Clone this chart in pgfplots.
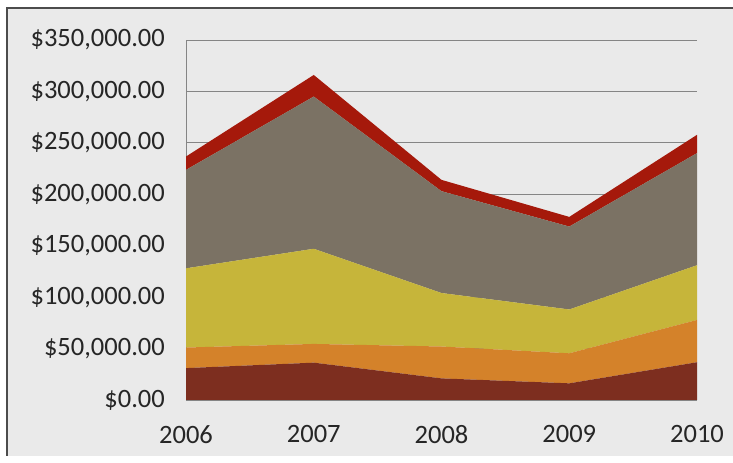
\documentclass[border=0pt]{standalone}
\usepackage{pgfplots}
\pgfplotsset{compat=1.18}
\usepackage{fontspec}
\setmainfont{Carlito}
\definecolor{bgc}{HTML}{EAEAEA}
\definecolor{s1}{HTML}{7D2E1F}
\definecolor{s2}{HTML}{D4822A}
\definecolor{s3}{HTML}{C6B53A}
\definecolor{s4}{HTML}{7B7264}
\definecolor{s5}{HTML}{A5190B}
\definecolor{gridc}{HTML}{858585}
\begin{document}
\begin{tikzpicture}[x=1bp,y=1bp]
\useasboundingbox (0,0) rectangle (733,463);
\fill[white] (0,0) rectangle (733,463);
\fill[bgc] (7,7) rectangle (733,455);
\draw[black!70, line width=1.5bp] (7,7) -- (7,455) -- (733,455);
\begin{axis}[
  at={(186bp,63bp)}, anchor=south west,
  width=511bp, height=360bp, scale only axis,
  xmin=2006, xmax=2010, ymin=0, ymax=350000,
  scaled y ticks=false, scaled x ticks=false,
  stack plots=y,
  axis x line=bottom, axis y line=left,
  axis line style={-, gridc, line width=0.8bp},
  ymajorgrids, grid style={gridc, line width=0.8bp},
  major tick length=0pt,
  xtick={2006,2007,2008,2009,2010},
  xticklabels={2006,2007,2008,2009,2010},
  ytick={0,50000,100000,150000,200000,250000,300000,350000},
  yticklabels={{\$0.00},{\$50,000.00},{\$100,000.00},{\$150,000.00},{\$200,000.00},{\$250,000.00},{\$300,000.00},{\$350,000.00}},
  ticklabel style={font=\fontsize{26.5bp}{30bp}\selectfont, text=black!85},
  yticklabel style={inner sep=0pt, xshift=-21bp},
  xticklabel style={inner sep=0pt, yshift=-25bp},
]
\addplot[fill=s1, draw=none] coordinates {(2006,31000) (2007,36300) (2008,21000) (2009,16200) (2010,36700)} \closedcycle;
\addplot[fill=s2, draw=none] coordinates {(2006,20000) (2007,18200) (2008,31000) (2009,29200) (2010,41100)} \closedcycle;
\addplot[fill=s3, draw=none] coordinates {(2006,77000) (2007,92500) (2008,52000) (2009,42600) (2010,53200)} \closedcycle;
\addplot[fill=s4, draw=none] coordinates {(2006,95700) (2007,148000) (2008,99000) (2009,80600) (2010,109000)} \closedcycle;
\addplot[fill=s5, draw=none] coordinates {(2006,13000) (2007,21000) (2008,11000) (2009,9400) (2010,17800)} \closedcycle;
\end{axis}
\end{tikzpicture}
\end{document}
